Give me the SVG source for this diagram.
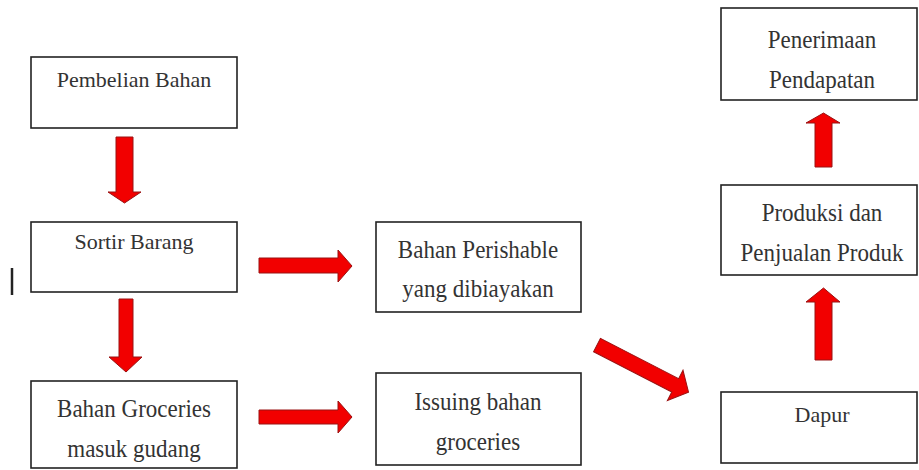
<svg xmlns="http://www.w3.org/2000/svg" width="919" height="470" viewBox="0 0 919 470">
<style>
.box{fill:#fff;stroke:#222;stroke-width:1.6}
.t{font-family:'Liberation Serif',Tinos,'DejaVu Serif',serif;font-size:22px;fill:#333;text-anchor:middle}
.big{font-size:23px}
.arr{fill:#f20000;stroke:#9a1212;stroke-width:1;stroke-linejoin:miter}
</style>
<rect width="919" height="470" fill="#fff"/>
<line x1="12" y1="268" x2="12" y2="295" stroke="#222" stroke-width="2.5"/>

<g id="pembelian">
<rect class="box" x="31" y="57" width="206" height="71"/>
<text class="t" font-family="Liberation Serif, serif" x="134" y="87">Pembelian Bahan</text>
</g>
<g id="sortir">
<rect class="box" x="31" y="222" width="206" height="70"/>
<text class="t" font-family="Liberation Serif, serif" x="134" y="249">Sortir Barang</text>
</g>
<g id="groceries">
<rect class="box" x="31" y="381" width="206" height="87"/>
<text class="t big" font-family="Liberation Serif, serif" transform="translate(134,417) scale(1,1.13)">Bahan Groceries</text>
<text class="t big" font-family="Liberation Serif, serif" transform="translate(134,457) scale(1,1.13)">masuk gudang</text>
</g>
<g id="perishable">
<rect class="box" x="376" y="222" width="205" height="90"/>
<text class="t big" font-family="Liberation Serif, serif" transform="translate(478,258) scale(1,1.13)">Bahan Perishable</text>
<text class="t big" font-family="Liberation Serif, serif" transform="translate(478,297) scale(1,1.13)">yang dibiayakan</text>
</g>
<g id="issuing">
<rect class="box" x="376" y="373" width="205" height="92"/>
<text class="t big" font-family="Liberation Serif, serif" transform="translate(478,410) scale(1,1.13)">Issuing bahan</text>
<text class="t big" font-family="Liberation Serif, serif" transform="translate(478,450) scale(1,1.13)">groceries</text>
</g>
<g id="penerimaan">
<rect class="box" x="721" y="8" width="196" height="92"/>
<text class="t big" font-family="Liberation Serif, serif" transform="translate(822,48) scale(1,1.13)">Penerimaan</text>
<text class="t big" font-family="Liberation Serif, serif" transform="translate(822,88) scale(1,1.13)">Pendapatan</text>
</g>
<g id="produksi">
<rect class="box" x="721" y="185" width="196" height="90"/>
<text class="t big" font-family="Liberation Serif, serif" transform="translate(822,221) scale(1,1.13)">Produksi dan</text>
<text class="t big" font-family="Liberation Serif, serif" transform="translate(822,261) scale(1,1.13)">Penjualan Produk</text>
</g>
<g id="dapur">
<rect class="box" x="721" y="392" width="196" height="71"/>
<text class="t" font-family="Liberation Serif, serif" x="822" y="422">Dapur</text>
</g>

<g id="connectors">
<path class="arr" d="M116,137 H133 V192 H141 L124.5,203 L108,192 H116 Z"/>
<path class="arr" d="M119,299 H133 V357 H142 L126,372 L109,357 H119 Z"/>
<path class="arr" d="M259,258 H338 V250 L352,266 L338,282 V273 H259 Z"/>
<path class="arr" d="M259,410 H338 V401 L352,417 L338,433 V424 H259 Z"/>
<path class="arr" d="M815,167 V123 H806 L823.5,113 L840,123 H832 V167 Z"/>
<path class="arr" d="M815,360 V302 H806 L823.5,288 L840,302 H832 V360 Z"/>
<path class="arr" transform="translate(597,345) rotate(27.3)" d="M0,-7.5 H88 V-17 L103,0 L88,17 V7.5 H0 Z"/>
</g>
</svg>
